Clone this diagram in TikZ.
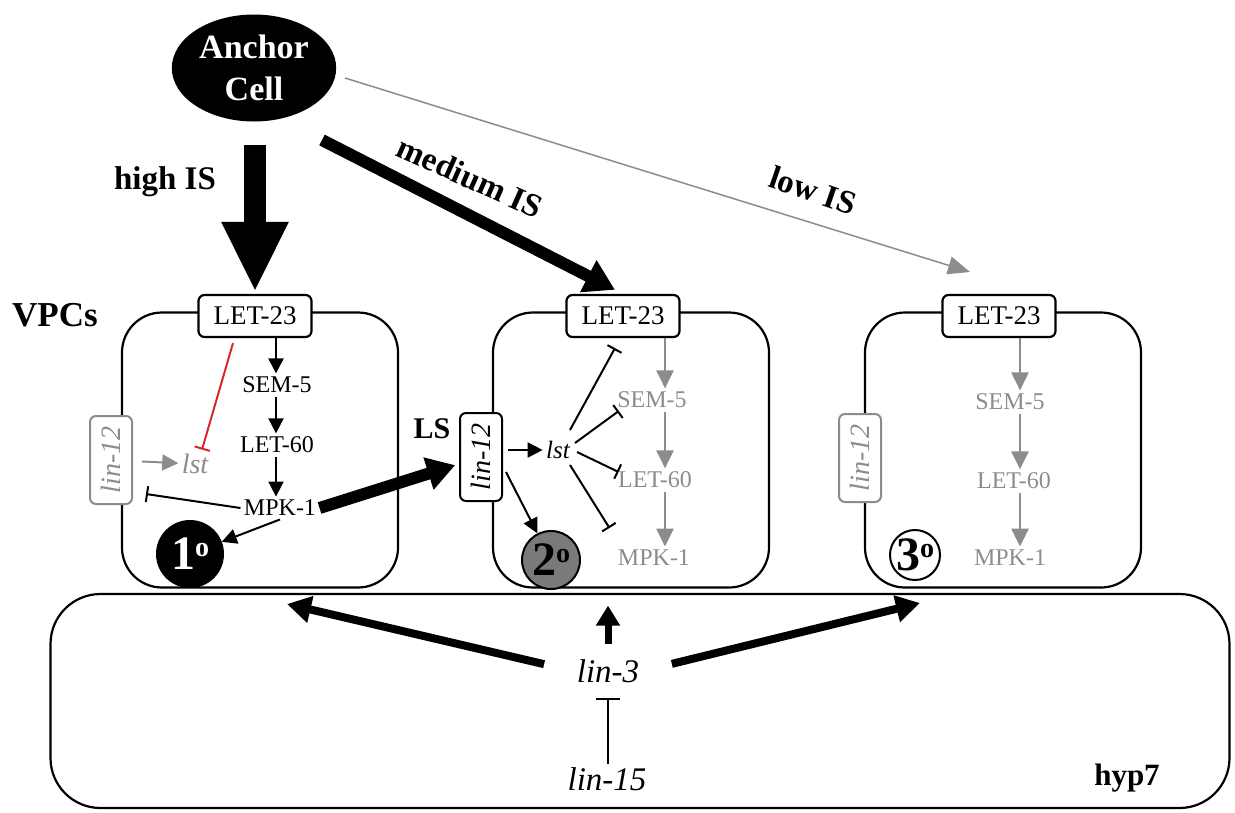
\documentclass[tikz,border=0pt]{standalone}
\usepackage{fontspec}
\setmainfont{Liberation Serif}
\usetikzlibrary{arrows.meta,shapes.geometric,calc}
\definecolor{fadegray}{HTML}{8C8C8C}
\definecolor{inhibred}{HTML}{D8262E}
\definecolor{midgray}{HTML}{7A7A7A}
\newcommand{\fateno}[1]{#1\raisebox{13pt}{\fontsize{28}{28}\selectfont o}}

\begin{document}
\begin{tikzpicture}[x=1pt,y=-1pt,
		cell/.style={draw,line width=2.2pt,rounded corners=40pt,minimum width=276pt,minimum height=275pt},
		receptor/.style={draw,fill=white,line width=2.2pt,rounded corners=6pt,minimum height=42pt,inner xsep=15pt,font=\fontsize{27}{27}\selectfont},
		notch/.style={draw,fill=white,line width=2pt,rounded corners=6pt,rotate=90,minimum width=88pt,minimum height=42pt,inner sep=2pt,font=\fontsize{28}{28}\selectfont\itshape},
		prot/.style={font=\fontsize{24}{24}\selectfont},
		fate/.style={circle,draw,line width=2pt,inner sep=0pt,font=\fontsize{48}{48}\selectfont\bfseries},
		tag/.style={font=\fontsize{33}{33}\selectfont\bfseries},
		act/.style={line width=2pt,-{Triangle[length=15pt,width=15pt]}},
		gact/.style={fadegray,line width=2.5pt,-{Triangle[length=18pt,width=17pt]}},
		inh/.style={line width=2pt,-{Bar[width=16pt]}},
	]
	\useasboundingbox (0,0) rectangle (1235,812);

	\node[ellipse,fill=black,minimum width=145pt,minimum height=107pt,text=white,align=center,font=\fontsize{34}{42}\selectfont\bfseries] (anchor) at (254,68) {Anchor\\Cell};
	\node[tag] at (165,182) {high IS};
	\node[tag] at (470,177) [rotate=-24] {medium IS};
	\node[tag] at (813,190) [rotate=-19] {low IS};
	\node[font=\fontsize{35}{35}\selectfont\bfseries] at (55,315) {VPCs};

	\node[cell] (cell1) at (260,450) {};
	\node[cell] (cell2) at (631,450) {};
	\node[cell] (cell3) at (1003,450) {};
	\node[cell,minimum width=1179pt,minimum height=214pt,rounded corners=50pt] (hyp) at (640,701) {};

	\node[receptor] (let1) at (255,316) {LET-23};
	\node[receptor] (let2) at (623,316) {LET-23};
	\node[receptor] (let3) at (999,316) {LET-23};

	\coordinate (hifrom) at (255,145);
	\coordinate (medfrom) at (322,140);
	\coordinate (lowfrom) at (345,78);
	\coordinate (lowto) at (970,272);
	\draw[line width=22pt,-{Triangle[length=70pt,width=62pt]}] (hifrom) -- (let1.north) [shorten >=2pt];
	\draw[line width=12pt,-{Triangle[length=30pt,width=34pt]}] (medfrom) -- (let2.north) [shorten >=9pt];
	\draw[fadegray,line width=1.5pt,-{Triangle[length=22pt,width=18pt]}] (lowfrom) -- (lowto);

	% primary cell
	\coordinate (col1) at (276,0);
	\node[prot] (sem1) at (277,385) {SEM-5};
	\node[prot] (ras1) at (277,445) {LET-60};
	\node[prot] (mpk1) at (280,508) {MPK-1};
	\node[notch,draw=fadegray,text=fadegray] (lin12a) at (111,460) {lin-12};
	\node[font=\fontsize{28}{28}\selectfont\itshape,text=fadegray] (lst1) at (195,464) {lst};
	\node[fate,fill=black,text=white,minimum size=66pt] (one) at (190,554) {\fateno{1}};
	\draw[act] (let1.south -| col1) -- (sem1.north -| col1);
	\draw[act] (sem1.south -| col1) -- (ras1.north -| col1);
	\draw[act] (ras1.south -| col1) -- (mpk1.north -| col1);
	\draw[inh,inhibred] ($(let1.south)+(-22,5)$) -- ($(lst1.north)+(7,-1)$);
	\draw[gact,line width=2pt,-{Triangle[length=16pt,width=16pt]}] (lin12a) -- (lst1) [shorten <=9pt];
	\draw[inh] (mpk1.west) -- ($(lin12a.south)+(13,34)$);
	\draw[act] (mpk1.south) -- (one);
	\node[font=\fontsize{30}{30}\selectfont\bfseries] at (432,429) {LS};

	% secondary cell
	\coordinate (col2) at (665,0);
	\node[notch] (lin12b) at (481,457) {lin-12};
	\node[font=\fontsize{25}{25}\selectfont\itshape] (lst2) at (558,450) {lst};
	\node[prot,text=fadegray] (sem2) at (652,400) {SEM-5};
	\node[prot,text=fadegray] (ras2) at (655,480) {LET-60};
	\node[prot,text=fadegray] (mpk2) at (654,558) {MPK-1};
	\node[fate,fill=midgray,minimum size=58pt] (two) at (551,560) {\fateno{2}};
	\draw[line width=12pt,-{Triangle[length=28pt,width=32pt]}] (mpk1.east) -- (lin12b) [shorten >=4pt];
	\draw[act] (lin12b.south |- lst2) -- (lst2) [shorten <=5pt];
	\draw[act] ($(lin12b.south)+(3,15)$) -- (two);
	\draw[inh] ($(lst2)+(12,-20)$) -- ($(let2.south)+(-8,10)$);
	\draw[inh] ($(lst2)+(17,-7)$) -- ($(sem2.west)+(5,11)$);
	\draw[inh] ($(lst2)+(19,2)$) -- ($(ras2.west)+(4,-8)$);
	\draw[inh] ($(lst2)+(12,15)$) -- ($(mpk2.west)+(-5,-30)$);
	\draw[gact] (let2.south -| col2) -- (sem2.north -| col2);
	\draw[gact] (sem2.south -| col2) -- (ras2.north -| col2);
	\draw[gact] (ras2.south -| col2) -- (mpk2.north -| col2);

	% tertiary cell
	\coordinate (col3) at (1020,0);
	\node[notch,draw=fadegray,text=fadegray] (lin12c) at (860,458) {lin-12};
	\node[prot,text=fadegray] (sem3) at (1010,402) {SEM-5};
	\node[prot,text=fadegray] (ras3) at (1014,481) {LET-60};
	\node[prot,text=fadegray] (mpk3) at (1010,558) {MPK-1};
	\node[fate,fill=white,minimum size=50pt] (three) at (915,555) {\fateno{3}};
	\draw[gact] (let3.south -| col3) -- (sem3.north -| col3);
	\draw[gact] (sem3.south -| col3) -- (ras3.north -| col3);
	\draw[gact] (ras3.south -| col3) -- (mpk3.north -| col3);

	% hyp7
	\node[font=\fontsize{33}{33}\selectfont\itshape] (lin3) at (608,671) {lin-3};
	\node[font=\fontsize{33}{33}\selectfont\itshape] (lin15) at (607,779) {lin-15};
	\node[font=\fontsize{31}{31}\selectfont\bfseries] at (1127,778) {hyp7};
	\coordinate (to1) at (287,604);
	\coordinate (to3) at (920,603);
	\draw[line width=8pt,-{Triangle[length=24pt,width=26pt]}] (lin3.west) -- (to1) [shorten <=30pt];
	\draw[line width=8pt,-{Triangle[length=24pt,width=26pt]}] (lin3.east) -- (to3) [shorten <=30pt];
	\draw[line width=7pt,-{Triangle[length=20pt,width=23pt]}] (lin3.north) -- (lin3.north |- cell2.south) [shorten <=12pt,shorten >=17pt];
	\draw[line width=2pt,-{Bar[width=24pt]}] (lin15.north -| lin3) -- (lin3.south) [shorten >=12pt];
\end{tikzpicture}
\end{document}
